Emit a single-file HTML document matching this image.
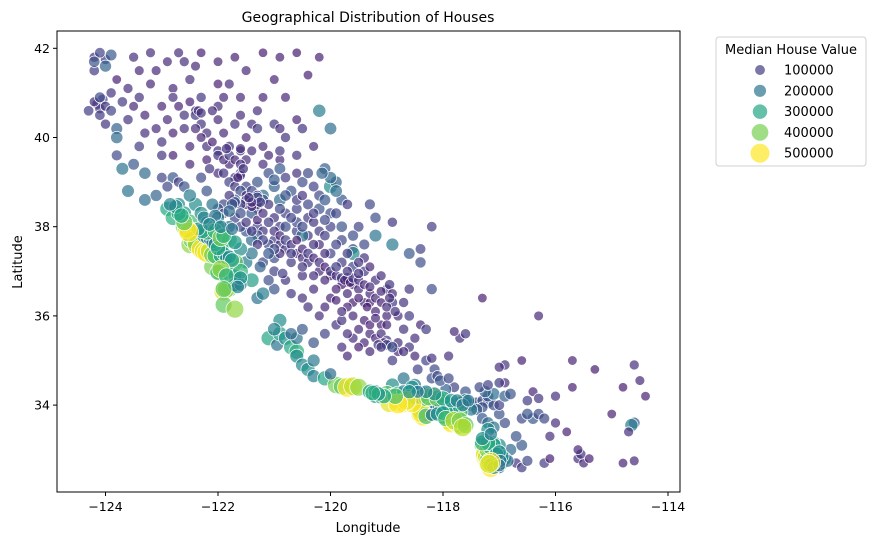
<!DOCTYPE html>
<html><head><meta charset="utf-8"><style>
html,body{margin:0;padding:0;background:#fff;}
svg{display:block;font-family:"DejaVu Sans","Liberation Sans",sans-serif;}
</style></head><body>
<svg id="chart" width="876" height="545" viewBox="0 0 876 545">
<text x="368" y="22" text-anchor="middle" font-size="14">Geographical Distribution of Houses</text>
<g id="marks"></g>
<rect x="57" y="31" width="623" height="461" fill="none" stroke="#000" stroke-width="1"/>
<g id="xaxis"></g>
<g id="yaxis"></g>
<text x="368" y="532" text-anchor="middle" font-size="13">Longitude</text>
<text x="22" y="262" text-anchor="middle" font-size="13" transform="rotate(-90 22 262)">Latitude</text>
<g id="legend">
<rect x="716" y="37" width="150" height="129" rx="3" fill="#fff" stroke="#d0d0d0"/>
<text x="791" y="54" text-anchor="middle" font-size="13">Median House Value</text>
</g>
</svg>
<script>
const xTicks=[-124,-122,-120,-118,-116,-114];
const yTicks=[34,36,38,40,42];
const legendValues=[100000,200000,300000,400000,500000];
// [longitude, latitude, value in thousands]
const northExtra=[[-123.9,41.0,90],[-123.5,40.7,70],[-122.9,40.4,75],[-122.7,40.7,65],[-122.0,41.2,60],[-121.9,40.9,70],[-121.4,40.3,80],[-121.2,40.9,65],[-120.5,40.2,90],[-120.3,39.8,75],[-120.6,39.6,85],[-120.9,39.5,70],[-123.3,40.1,80],[-123.0,39.6,90],[-122.8,39.6,60],[-122.5,39.8,70],[-122.8,40.1,65],[-124.2,41.5,100],[-124.0,41.75,95],[-124.15,40.75,90],[-124.05,40.85,110],[-124.1,40.65,95]];
const northCoast=[[-124.2,41.8,90],[-124.1,41.9,110],[-124.2,41.7,140],[-123.9,41.85,150],[-124.0,41.6,170],[-124.3,40.6,100],[-124.2,40.8,80],[-124.1,40.9,120],[-124.0,40.7,90],[-124.1,40.5,100],[-123.9,40.6,110],[-124.0,40.3,85],[-123.8,40.2,160],[-123.7,40.8,95],[-123.6,41.1,80],[-123.8,41.3,60],[-123.4,41.5,70],[-123.5,41.8,80],[-123.2,41.9,75],[-123.8,40.0,180],[-123.6,40.4,90],[-123.3,40.5,70],[-123.4,40.9,85],[-123.2,41.2,70],[-123.0,40.7,65],[-123.1,40.2,75]];
const northInterior=[[-122.9,41.7,70],[-122.7,41.9,75],[-122.6,41.7,80],[-122.4,41.6,70],[-122.3,41.9,60],[-122.0,41.7,65],[-121.7,41.8,60],[-121.5,41.5,70],[-121.2,41.9,55],[-120.9,41.8,60],[-120.6,41.9,55],[-120.4,41.4,60],[-120.2,41.8,60],[-121.0,41.3,65],[-121.8,41.2,75],[-122.5,41.3,80],[-122.8,41.1,70],[-122.3,40.9,90],[-122.0,40.7,80],[-121.6,40.9,70],[-121.3,40.6,80],[-120.8,40.9,70],[-120.6,40.4,65],[-120.2,40.6,220],[-120.0,40.2,190],[-121.3,40.2,95],[-121.0,40.3,90],[-120.8,40.0,85],[-122.6,40.5,85],[-122.4,40.6,75],[-122.3,40.3,90],[-122.2,40.1,80],[-122.0,40.4,70]];
const sacramentoValley=[[-121.8,39.8,90],[-122.0,39.7,85],[-121.6,39.7,75],[-121.5,39.5,80],[-121.8,39.4,70],[-122.2,39.5,65],[-122.0,39.2,80],[-121.7,39.1,95],[-121.6,39.2,100],[-121.5,38.9,110],[-121.3,39.0,140],[-121.1,39.2,130],[-120.9,39.3,150],[-121.0,38.9,160],[-120.7,38.8,140],[-120.5,39.0,130],[-120.1,39.3,160],[-120.0,38.9,250],[-120.2,38.7,120],[-120.4,38.5,115],[-120.6,38.4,110],[-120.9,38.6,190],[-121.2,38.7,180],[-121.4,38.6,110],[-121.5,38.5,80],[-121.3,38.4,90],[-121.4,38.3,150],[-121.0,38.2,90],[-123.5,39.4,150],[-123.3,39.2,180],[-123.7,39.3,200],[-123.8,39.6,120],[-123.4,39.8,100],[-123.0,39.9,90],[-122.8,39.1,150],[-122.9,38.9,120],[-122.7,39.0,100],[-123.0,39.1,110],[-122.5,39.4,70],[-122.6,38.9,140],[-123.1,38.7,170],[-123.3,38.6,190],[-123.6,38.8,200]];
const centralValley=[[-121.3,38.0,110],[-121.2,37.9,90],[-121.0,37.7,100],[-120.9,37.6,80],[-120.8,37.5,90],[-120.6,37.4,70],[-120.5,37.3,80],[-120.4,37.2,90],[-120.2,37.0,75],[-120.0,36.9,70],[-119.8,36.8,90],[-119.7,36.75,80],[-119.6,36.7,70],[-119.8,36.7,60],[-119.5,36.6,75],[-119.4,36.3,70],[-119.3,36.3,60],[-119.6,36.3,55],[-119.7,36.2,65],[-119.2,36.1,70],[-119.1,35.8,60],[-119.3,35.6,75],[-119.2,35.5,65],[-119.4,35.4,70],[-119.6,35.5,80],[-119.9,35.8,90],[-120.1,36.2,70],[-120.3,36.6,75],[-120.5,36.9,85],[-120.7,37.2,95],[-121.0,37.3,130],[-121.1,37.6,120],[-121.3,37.8,140],[-121.4,37.7,180],[-121.5,37.9,150],[-121.6,38.0,120],[-120.9,38.0,100],[-120.6,37.9,110],[-120.4,37.8,90],[-120.2,37.6,80],[-120.0,37.4,110],[-119.8,37.2,100],[-119.6,37.1,120],[-119.4,37.0,95],[-119.2,36.8,85],[-119.0,36.6,90],[-118.9,36.3,100],[-118.8,36.0,80],[-118.7,35.7,90],[-119.0,36.0,70],[-120.2,37.9,95],[-120.0,38.0,110],[-119.8,37.7,120],[-119.6,37.5,105],[-119.4,37.3,90],[-120.4,38.2,100],[-120.6,38.1,120],[-120.8,38.3,110],[-120.0,38.3,130],[-119.8,38.6,150],[-119.9,39.0,170],[-119.9,38.8,190],[-119.7,38.5,100],[-119.5,38.0,110],[-121.0,36.6,140],[-120.8,36.8,90],[-120.5,36.4,80],[-120.2,36.0,75],[-119.8,35.9,85],[-119.5,35.7,70],[-119.6,37.4,250],[-119.2,37.8,200],[-120.5,37.8,200],[-121.2,37.2,120]];
const valleyFill=[[-122.4,40.2,80],[-122.3,40.0,70],[-122.2,39.8,85],[-122.1,39.9,60],[-122.0,39.6,90],[-121.9,39.5,75],[-121.8,39.6,100],[-121.7,39.5,65],[-121.6,39.4,85],[-121.9,39.2,90],[-121.8,39.0,110],[-121.7,38.9,95],[-121.6,38.8,130],[-121.5,38.7,80],[-121.4,38.8,120],[-121.3,38.7,100],[-121.2,38.6,140],[-121.1,38.5,90],[-121.3,38.5,70],[-121.4,38.45,60],[-121.5,38.6,90],[-121.6,38.5,110],[-121.7,38.6,150],[-121.8,38.7,90],[-121.9,38.5,120],[-122.0,38.4,140],[-121.9,38.3,100],[-121.7,38.2,120],[-121.5,38.1,90],[-121.3,38.15,70],[-121.2,38.3,80],[-121.1,38.1,100],[-120.9,38.4,120],[-120.8,38.7,140],[-120.6,38.6,100],[-120.5,38.7,90],[-120.3,38.9,110],[-120.4,39.2,120],[-120.6,39.2,80],[-120.8,39.1,100],[-121.0,39.05,150],[-121.2,39.4,80],[-121.1,39.6,70],[-120.9,39.7,90],[-121.4,39.7,75],[-121.5,40.0,65],[-121.9,40.1,70],[-121.7,40.3,85],[-122.1,40.6,75],[-122.5,40.8,60],[-122.6,40.2,80],[-121.0,37.9,90],[-120.9,37.8,70],[-120.8,37.7,110],[-120.7,37.6,85],[-120.6,37.7,60],[-120.5,37.5,75],[-120.4,37.4,95],[-120.3,37.3,70],[-120.2,37.2,85],[-120.1,37.1,60],[-120.0,37.0,90],[-119.9,36.9,75],[-119.8,36.85,100],[-119.7,36.85,120],[-119.75,36.8,70],[-119.65,36.75,60],[-119.6,36.85,90],[-119.5,36.8,80],[-119.4,36.7,70],[-119.3,36.5,65],[-119.2,36.4,75],[-119.1,36.3,60],[-119.0,36.2,80],[-119.35,36.2,55],[-119.5,36.4,60],[-119.7,36.5,70],[-119.9,36.6,65],[-120.1,36.8,70],[-120.3,36.9,80],[-120.5,37.1,90],[-120.7,37.4,100],[-120.9,37.4,80],[-121.0,37.5,120],[-121.2,37.7,110],[-121.3,37.6,90],[-121.4,37.9,100],[-120.8,38.0,130],[-120.5,38.0,120],[-120.3,38.1,90],[-120.1,37.8,100],[-119.9,37.6,110],[-119.7,37.4,95],[-119.5,37.2,85],[-119.3,37.1,70],[-119.1,36.9,80],[-118.95,36.7,90],[-118.9,36.5,75],[-118.85,36.1,85],[-119.0,35.8,70],[-119.1,35.6,80],[-119.0,35.45,90],[-119.05,35.4,70],[-119.15,35.35,100],[-118.95,35.35,80],[-119.3,35.2,70],[-119.5,35.3,60],[-119.7,35.6,80],[-119.8,36.1,75],[-119.6,36.0,70],[-119.4,35.9,65],[-119.3,35.8,60],[-119.2,35.95,70],[-118.8,35.2,75],[-118.6,35.3,90],[-118.5,35.5,80],[-118.4,35.8,70],[-118.6,36.0,100],[-118.7,36.3,85],[-118.6,36.6,90],[-120.2,38.4,140],[-120.1,38.6,150],[-119.9,38.3,120],[-120.3,38.3,100],[-120.0,39.1,180],[-120.15,39.2,170],[-122.4,40.5,95],[-122.35,40.6,80],[-122.3,40.55,85],[-121.6,39.15,80],[-121.65,39.1,70],[-121.55,39.3,90],[-121.6,39.75,75],[-121.85,39.75,85],[-121.7,38.55,120],[-121.75,38.5,140],[-121.3,38.65,130],[-121.25,38.55,100],[-121.4,38.55,80],[-121.45,38.65,90]];
const gapFill=[[-120.7,38.2,110],[-120.3,37.6,90],[-120.1,37.4,80],[-119.9,37.1,100],[-119.7,37.0,85],[-119.5,36.95,90],[-119.3,36.65,75],[-119.1,36.55,70],[-118.95,36.4,80],[-119.4,37.6,120],[-119.6,37.8,130],[-119.8,38.0,140],[-120.1,38.15,120],[-121.1,37.4,150],[-121.25,37.1,160],[-121.5,37.2,220],[-121.4,37.4,200],[-121.6,37.5,250],[-121.0,37.0,110],[-120.85,36.95,100],[-121.1,36.8,130],[-120.7,36.5,90],[-120.4,36.2,85],[-120.0,36.4,70],[-119.9,36.35,60],[-120.1,35.6,110],[-120.3,35.4,140],[-119.8,35.3,80],[-119.7,35.1,70],[-118.9,35.0,100],[-118.45,34.8,110],[-118.15,34.8,120],[-117.8,34.4,110],[-117.6,34.3,140],[-117.95,34.35,160],[-118.7,34.6,200],[-118.9,34.45,250],[-121.6,38.3,130],[-121.8,38.35,180],[-122.1,38.5,200],[-122.4,38.5,250],[-122.5,38.7,220],[-122.2,38.8,140],[-122.3,39.1,120],[-122.15,39.3,90],[-121.2,39.8,70],[-120.9,40.2,80],[-121.6,40.5,75],[-122.8,40.9,80],[-123.1,41.5,70],[-121.1,35.5,300],[-120.95,35.35,200],[-116.6,33.1,150],[-116.8,33.0,180],[-116.7,33.3,140],[-116.9,33.6,130],[-116.6,33.7,120],[-117.0,33.8,140],[-116.9,34.5,80],[-116.4,34.3,70]];
const easternInland=[[-118.8,35.4,80],[-119.0,35.35,110],[-119.1,35.3,90],[-118.9,35.3,130],[-118.7,35.2,80],[-118.5,35.1,70],[-118.3,35.0,110],[-118.2,35.05,90],[-117.9,35.1,80],[-117.7,35.5,80],[-117.8,35.65,70],[-117.6,35.6,90],[-117.3,36.4,60],[-118.3,35.7,100],[-118.2,36.6,130],[-118.4,37.2,130],[-118.6,37.4,150],[-118.9,37.6,210],[-118.4,37.5,110],[-118.2,38.0,100],[-119.2,38.2,130],[-119.3,38.5,120],[-118.9,38.1,90],[-118.2,34.6,130],[-118.1,34.65,120],[-118.05,34.55,140],[-117.9,34.6,120],[-117.6,34.05,200],[-117.5,34.0,180],[-117.4,34.05,150],[-117.3,34.1,120],[-117.2,34.05,140],[-117.3,33.95,130],[-117.4,33.9,160],[-117.5,33.9,210],[-117.6,34.1,250],[-117.7,34.05,230],[-117.1,34.0,130],[-117.0,34.0,110],[-117.2,34.2,150],[-117.1,34.25,190],[-117.25,34.3,170],[-117.35,34.4,120],[-117.2,34.45,110],[-117.0,34.5,100],[-116.9,34.2,160],[-116.8,34.25,140],[-117.3,33.7,150],[-117.2,33.6,180],[-117.1,33.5,200]];
const desert=[[-116.7,32.7,90],[-116.6,32.6,100],[-116.5,32.75,120],[-116.2,32.7,100],[-116.1,32.8,60],[-115.6,32.8,80],[-115.5,32.7,70],[-115.55,32.9,90],[-115.4,32.8,60],[-115.6,33.0,70],[-116.1,33.3,80],[-116.4,33.7,150],[-116.3,33.8,130],[-116.2,33.7,120],[-116.5,33.8,140],[-116.0,33.6,80],[-115.8,33.4,60],[-116.5,34.1,100],[-116.3,34.15,90],[-116.0,34.2,80],[-115.7,34.4,60],[-116.9,34.9,90],[-117.0,34.85,80],[-116.6,35.0,60],[-116.3,36.0,70],[-115.7,35.0,65],[-115.3,34.8,55],[-114.6,34.9,80],[-114.5,34.55,70],[-114.4,34.2,60],[-114.6,33.6,150],[-114.65,33.55,220],[-114.7,33.4,80],[-114.6,32.75,70],[-114.8,32.7,60],[-115.0,33.8,60],[-114.8,34.4,55]];
const bayArea=[[-122.9,38.4,300],[-122.7,38.5,240],[-122.6,38.3,280],[-122.8,38.2,320],[-122.5,38.1,350],[-122.3,38.3,250],[-122.2,38.1,190],[-122.0,38.2,210],[-121.8,38.0,180],[-122.0,38.0,260],[-122.1,37.9,330],[-122.3,37.9,280],[-122.5,37.9,450],[-122.6,38.0,420],[-122.4,37.8,500],[-122.45,37.75,450],[-122.4,37.7,380],[-122.5,37.6,420],[-122.3,37.55,500],[-122.2,37.5,480],[-122.1,37.4,500],[-122.0,37.35,460],[-121.9,37.3,350],[-121.85,37.35,280],[-121.8,37.25,320],[-121.7,37.2,380],[-122.1,37.7,260],[-122.0,37.65,300],[-121.9,37.7,370],[-122.2,37.8,300],[-122.25,37.85,400],[-122.1,37.6,240],[-122.0,37.55,350],[-121.95,37.45,300],[-121.8,37.7,330],[-121.7,37.65,280],[-122.0,37.0,380],[-121.95,36.97,420],[-122.1,37.1,400],[-121.8,36.95,320],[-121.7,36.9,250],[-121.6,37.0,330],[-121.4,36.8,280],[-121.8,36.6,350],[-121.9,36.55,480],[-121.85,36.6,420],[-121.7,36.7,260],[-121.6,36.7,210],[-121.9,36.25,380],[-121.7,36.15,420],[-121.3,36.4,200],[-121.2,36.5,220]];
const bayFill=[[-122.45,37.78,500],[-122.42,37.72,420],[-122.47,37.7,380],[-122.42,37.65,300],[-122.38,37.6,450],[-122.3,37.5,500],[-122.25,37.45,480],[-122.2,37.42,500],[-122.15,37.45,450],[-122.1,37.37,400],[-122.05,37.35,350],[-121.95,37.35,300],[-121.9,37.4,260],[-121.85,37.3,230],[-121.8,37.32,250],[-121.75,37.25,290],[-122.25,37.8,280],[-122.2,37.75,220],[-122.15,37.72,180],[-122.1,37.65,200],[-122.05,37.6,260],[-122.0,37.52,310],[-122.2,37.88,350],[-122.28,37.9,300],[-122.35,37.95,250],[-122.05,37.9,340],[-121.95,37.75,400],[-121.9,37.8,320],[-122.55,37.95,470],[-122.52,37.88,500],[-122.6,38.1,380],[-122.7,38.3,300],[-122.75,38.45,260],[-122.85,38.5,230],[-122.65,38.25,310],[-122.25,38.2,230],[-122.05,38.25,200],[-122.15,38.05,240],[-121.95,38.0,230],[-121.75,37.95,200],[-122.0,36.98,350],[-121.95,37.05,420],[-121.85,36.9,330],[-121.6,36.85,260],[-121.65,36.65,230],[-121.9,36.6,380]];
const centralCoast=[[-120.9,35.6,280],[-120.8,35.5,260],[-120.7,35.3,300],[-120.6,35.2,320],[-120.6,35.1,250],[-120.5,34.9,240],[-120.4,34.8,260],[-120.3,34.65,220],[-120.1,34.6,300],[-119.9,34.45,400],[-119.8,34.42,380],[-119.7,34.4,500],[-119.6,34.42,460],[-119.5,34.4,420],[-119.3,34.3,300],[-119.2,34.2,280],[-119.1,34.2,330],[-119.0,34.25,380],[-119.2,34.3,250],[-120.0,34.7,180],[-120.3,35.0,210],[-120.6,35.5,200],[-120.7,35.6,180],[-120.9,35.9,250],[-121.0,35.7,230],[-120.5,35.7,150]];
const southCoast=[[-118.9,34.2,350],[-118.8,34.1,480],[-118.7,34.05,500],[-118.6,34.1,420],[-118.5,34.05,500],[-118.45,34.0,500],[-118.4,34.1,500],[-118.35,34.05,400],[-118.3,34.0,300],[-118.25,34.05,200],[-118.2,34.0,180],[-118.3,33.9,220],[-118.35,33.85,350],[-118.4,33.8,480],[-118.35,33.75,500],[-118.3,33.8,280],[-118.2,33.8,250],[-118.15,33.85,230],[-118.1,33.9,260],[-118.0,33.9,280],[-118.1,34.1,300],[-118.15,34.15,400],[-118.05,34.15,350],[-118.0,34.1,250],[-117.9,34.05,230],[-117.95,33.95,330],[-117.85,33.8,300],[-117.8,33.7,380],[-117.9,33.65,450],[-117.85,33.6,500],[-117.75,33.6,480],[-117.7,33.55,420],[-117.65,33.6,350],[-117.75,33.7,300],[-117.9,33.75,260],[-118.0,33.75,330],[-118.05,33.8,270],[-117.8,33.85,320],[-117.7,33.85,350],[-118.55,34.2,280],[-118.45,34.25,230],[-118.35,34.2,250],[-118.25,34.25,300],[-118.2,34.2,450],[-118.6,34.25,300],[-118.8,34.25,330],[-118.95,34.05,480],[-118.7,34.3,250],[-118.4,34.3,200],[-118.5,34.45,220],[-118.55,34.4,260],[-117.2,33.45,260],[-117.25,33.2,280],[-117.3,33.1,360],[-117.25,33.0,450],[-117.2,32.95,500],[-117.25,32.85,500],[-117.2,32.75,350],[-117.15,32.7,250],[-117.1,32.75,200],[-117.05,32.7,150],[-117.1,32.65,260],[-117.0,32.6,180],[-116.95,32.7,230],[-117.0,32.8,280],[-117.1,32.85,300],[-117.1,32.95,330],[-117.05,33.0,280],[-117.0,33.1,250],[-117.1,33.15,260],[-116.9,32.8,240],[-116.85,32.75,200],[-116.95,32.85,250],[-117.15,32.6,500],[-117.2,32.7,480]];
const laFill=[[-118.45,34.05,500],[-118.4,34.05,480],[-118.35,34.08,420],[-118.3,34.08,250],[-118.25,34.1,330],[-118.2,34.08,200],[-118.15,34.05,220],[-118.1,34.05,250],[-118.05,34.05,220],[-118.0,34.0,260],[-117.95,34.05,240],[-117.9,33.95,280],[-117.85,33.9,300],[-117.95,33.85,300],[-118.05,33.9,230],[-118.15,33.95,200],[-118.2,33.92,180],[-118.25,33.95,150],[-118.3,33.95,180],[-118.35,33.95,230],[-118.4,33.95,330],[-118.4,33.88,420],[-118.38,33.82,500],[-118.3,33.75,350],[-118.2,33.78,200],[-118.1,33.8,260],[-118.0,33.82,280],[-117.95,33.7,350],[-117.8,33.65,450],[-117.7,33.65,400],[-117.6,33.55,380],[-117.65,33.5,450],[-118.6,34.18,330],[-118.5,34.18,300],[-118.4,34.18,280],[-118.3,34.15,350],[-118.55,34.05,500],[-118.65,34.1,480],[-118.8,34.03,500],[-118.25,34.18,400],[-118.1,34.15,380],[-118.0,34.15,300],[-117.85,34.1,270],[-117.75,34.1,230],[-117.65,34.0,220],[-117.55,34.1,200],[-118.15,34.25,250],[-118.3,34.3,230],[-118.45,34.3,210],[-118.6,34.3,260],[-118.85,34.2,360],[-119.05,34.2,300],[-119.15,34.25,270],[-119.25,34.27,320]];
const sdFill=[[-117.25,32.9,480],[-117.22,32.85,450],[-117.2,32.8,350],[-117.15,32.75,280],[-117.12,32.7,220],[-117.08,32.72,180],[-117.05,32.78,250],[-117.1,32.8,280],[-117.15,32.85,300],[-117.2,33.0,420],[-117.15,33.05,330],[-117.1,33.1,300],[-117.2,33.15,310],[-117.3,33.15,330],[-117.05,32.9,270],[-117.0,32.95,260],[-116.98,32.75,210],[-117.15,32.65,280],[-117.1,32.6,240],[-117.0,32.65,200],[-117.3,33.25,250],[-117.15,33.35,220],[-117.15,32.72,500],[-117.18,32.68,470]];

const NS='http://www.w3.org/2000/svg';
const xScale=lon=>105.5+(lon+124)*56.25;
const yScale=lat=>48.3+(42-lat)*44.6;
const rScale=v=>4.1+v/500000*5.7;
const stops=['#440154','#482475','#414487','#355f8d','#2a788e','#21918c','#22a884','#44bf70','#7ad151','#bddf26','#fde725'];
function hex(c){return [1,3,5].map(i=>parseInt(c.substr(i,2),16));}
function colorOf(v){
  let t=Math.max(0,Math.min(1,(v-15000)/(500001-15000)))*10;
  const i=Math.min(9,Math.floor(t)),f=t-i,a=hex(stops[i]),b=hex(stops[i+1]);
  return 'rgb('+a.map((x,k)=>Math.round(x+(b[k]-x)*f)).join(',')+')';
}
const marks=document.getElementById('marks');
const regions=[northExtra,northCoast,northInterior,sacramentoValley,centralValley,valleyFill,gapFill,easternInland,desert,bayArea,bayFill,centralCoast,southCoast,laFill,sdFill];
regions.forEach(reg=>reg.forEach(p=>{
  const v=p[2]*1000;
  const c=document.createElementNS(NS,'circle');
  c.setAttribute('cx',xScale(p[0]));c.setAttribute('cy',yScale(p[1]));c.setAttribute('r',rScale(v));
  c.setAttribute('fill',colorOf(v));c.setAttribute('fill-opacity','0.7');
  c.setAttribute('stroke','#fff');c.setAttribute('stroke-width','0.7');
  
  
  marks.appendChild(c);
}));
const xa=document.getElementById('xaxis');
xTicks.forEach(t=>{
  const x=xScale(t);
  const l=document.createElementNS(NS,'line');
  l.setAttribute('x1',x);l.setAttribute('x2',x);l.setAttribute('y1',492);l.setAttribute('y2',496);l.setAttribute('stroke','#000');
  
  
  xa.appendChild(l);
  const tx=document.createElementNS(NS,'text');
  tx.setAttribute('x',x);tx.setAttribute('y',511);tx.setAttribute('text-anchor','middle');tx.setAttribute('font-size','12.5');
  tx.textContent='\u2212'+Math.abs(t);
  
  
  xa.appendChild(tx);
});
const ya=document.getElementById('yaxis');
yTicks.forEach(t=>{
  const y=yScale(t);
  const l=document.createElementNS(NS,'line');
  l.setAttribute('x1',53);l.setAttribute('x2',57);l.setAttribute('y1',y);l.setAttribute('y2',y);l.setAttribute('stroke','#000');
  
  
  ya.appendChild(l);
  const tx=document.createElementNS(NS,'text');
  tx.setAttribute('x',50);tx.setAttribute('y',y+4.5);tx.setAttribute('text-anchor','end');tx.setAttribute('font-size','12.5');
  tx.textContent=t;
  
  
  ya.appendChild(tx);
});
const lg=document.getElementById('legend');
legendValues.forEach((v,i)=>{
  const y=70+i*20.8;
  const c=document.createElementNS(NS,'circle');
  c.setAttribute('cx',760);c.setAttribute('cy',y);c.setAttribute('r',rScale(v)-0.3);
  c.setAttribute('fill',colorOf(v));c.setAttribute('fill-opacity','0.7');
  
  
  lg.appendChild(c);
  const tx=document.createElementNS(NS,'text');
  tx.setAttribute('x',784);tx.setAttribute('y',y+4.5);tx.setAttribute('font-size','13');
  tx.textContent=v;
  
  
  lg.appendChild(tx);
});
</script>
</body></html>
